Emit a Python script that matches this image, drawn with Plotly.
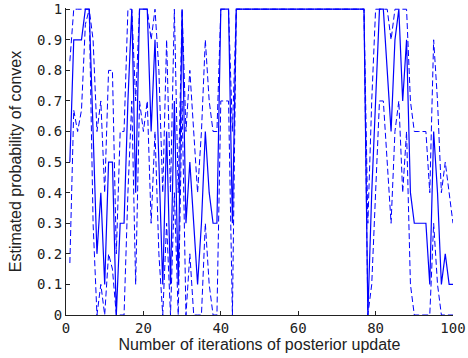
import plotly.graph_objects as go

iterations = list(range(1, 101))

estimate = [
    0.5, 0.9, 0.9, 0.9, 1.0, 1.0, 0.6, 0.2, 0.4, 0.1,
    0.5, 0.5, 0.0, 0.3, 0.3, 0.7, 1.0, 0.4, 1.0, 1.0,
    1.0, 0.6, 0.9, 0.5, 0.1, 0.6, 0.1, 0.7, 0.1, 1.0,
    0.3, 0.5, 0.3, 0.1, 0.3, 0.6, 0.4, 0.3, 0.3, 1.0,
    1.0, 1.0, 0.3, 1.0, 1.0, 1.0, 1.0, 1.0, 1.0, 1.0,
    1.0, 1.0, 1.0, 1.0, 1.0, 1.0, 1.0, 1.0, 1.0, 1.0,
    1.0, 1.0, 1.0, 1.0, 1.0, 1.0, 1.0, 1.0, 1.0, 1.0,
    1.0, 1.0, 1.0, 1.0, 1.0, 1.0, 1.0, 0.0, 0.4, 0.7,
    1.0, 1.0, 0.8, 0.6, 0.9, 1.0, 0.7, 0.9, 0.4, 0.3,
    0.3, 0.3, 0.3, 0.1, 0.6, 0.4, 0.1, 0.2, 0.1, 0.1,
]

upper = [
    0.83, 1.0, 1.0, 1.0, 1.0, 1.0, 0.9, 0.6, 0.7, 0.4,
    0.8, 0.8, 0.2, 0.6, 0.6, 1.0, 1.0, 0.7, 1.0, 1.0,
    1.0, 0.9, 1.0, 0.8, 0.4, 0.9, 0.4, 1.0, 0.4, 1.0,
    0.6, 0.8, 0.6, 0.4, 0.6, 0.9, 0.7, 0.6, 0.6, 1.0,
    1.0, 1.0, 0.6, 1.0, 1.0, 1.0, 1.0, 1.0, 1.0, 1.0,
    1.0, 1.0, 1.0, 1.0, 1.0, 1.0, 1.0, 1.0, 1.0, 1.0,
    1.0, 1.0, 1.0, 1.0, 1.0, 1.0, 1.0, 1.0, 1.0, 1.0,
    1.0, 1.0, 1.0, 1.0, 1.0, 1.0, 1.0, 0.3, 0.7, 1.0,
    1.0, 1.0, 1.0, 0.9, 1.0, 1.0, 1.0, 1.0, 0.7, 0.6,
    0.6, 0.6, 0.6, 0.4, 0.9, 0.7, 0.4, 0.5, 0.4, 0.3,
]

lower = [
    0.17, 0.67, 0.6, 0.67, 0.95, 1.0, 0.3, 0.0, 0.1, 0.0,
    0.2, 0.15, 0.0, 0.0, 0.0, 0.4, 0.7, 0.1, 0.7, 0.6,
    0.7, 0.3, 0.6, 0.2, 0.0, 0.3, 0.0, 0.4, 0.0, 0.7,
    0.0, 0.2, 0.0, 0.0, 0.0, 0.3, 0.1, 0.0, 0.0, 0.7,
    0.7, 0.7, 0.0, 1.0, 1.0, 1.0, 1.0, 1.0, 1.0, 1.0,
    1.0, 1.0, 1.0, 1.0, 1.0, 1.0, 1.0, 1.0, 1.0, 1.0,
    1.0, 1.0, 1.0, 1.0, 1.0, 1.0, 1.0, 1.0, 1.0, 1.0,
    1.0, 1.0, 1.0, 1.0, 1.0, 1.0, 1.0, 0.0, 0.1, 0.4,
    0.7, 0.7, 0.5, 0.3, 0.6, 0.7, 0.4, 0.6, 0.1, 0.0,
    0.0, 0.0, 0.0, 0.0, 0.3, 0.1, 0.0, 0.0, 0.0, 0.0,
]

x_ticks = [0, 20, 40, 60, 80, 100]
y_ticks = [0, 0.1, 0.2, 0.3, 0.4, 0.5, 0.6, 0.7, 0.8, 0.9, 1]
y_tick_text = ["0", "0.1", "0.2", "0.3", "0.4", "0.5", "0.6", "0.7", "0.8", "0.9", "1"]

fig = go.Figure()
fig.add_trace(go.Scatter(x=iterations, y=upper, mode="lines",
                         line=dict(color="#0000ff", width=1, dash="6px,3px"), showlegend=False))
fig.add_trace(go.Scatter(x=iterations, y=lower, mode="lines",
                         line=dict(color="#0000ff", width=1, dash="6px,3px"), showlegend=False))
fig.add_trace(go.Scatter(x=iterations, y=estimate, mode="lines",
                         line=dict(color="#0000ff", width=1.2), showlegend=False))

fig.update_layout(
    width=468, height=358,
    margin=dict(l=66, r=15, t=8, b=43, autoexpand=False),
    paper_bgcolor="white", plot_bgcolor="white",
    font=dict(family="Liberation Sans, Arial", size=14, color="#222"),
)
fig.update_xaxes(
    range=[0, 100], tickvals=x_ticks, ticks="inside", ticklen=4, tickcolor="#222",
    showline=True, linecolor="#222", linewidth=1, showgrid=False, zeroline=False,
    automargin=False,
    tickfont=dict(family="DejaVu Sans Mono, monospace", size=14),
    title=dict(text="Number of iterations of posterior update", standoff=0,
               font=dict(family="Liberation Sans, Arial", size=16)),
)
fig.update_yaxes(
    range=[0, 1.004], tickvals=y_ticks, ticktext=y_tick_text, ticks="inside", ticklen=4,
    tickcolor="#222", showline=True, linecolor="#222", linewidth=1, showgrid=False,
    zeroline=False, automargin=False,
    tickfont=dict(family="DejaVu Sans Mono, monospace", size=14),
    title=dict(text="Estimated probability of convex", standoff=11,
               font=dict(family="Liberation Sans, Arial", size=16)),
)

fig.write_html("out.html", config={"displayModeBar": False},
               post_script="document.body.style.margin='0';")
